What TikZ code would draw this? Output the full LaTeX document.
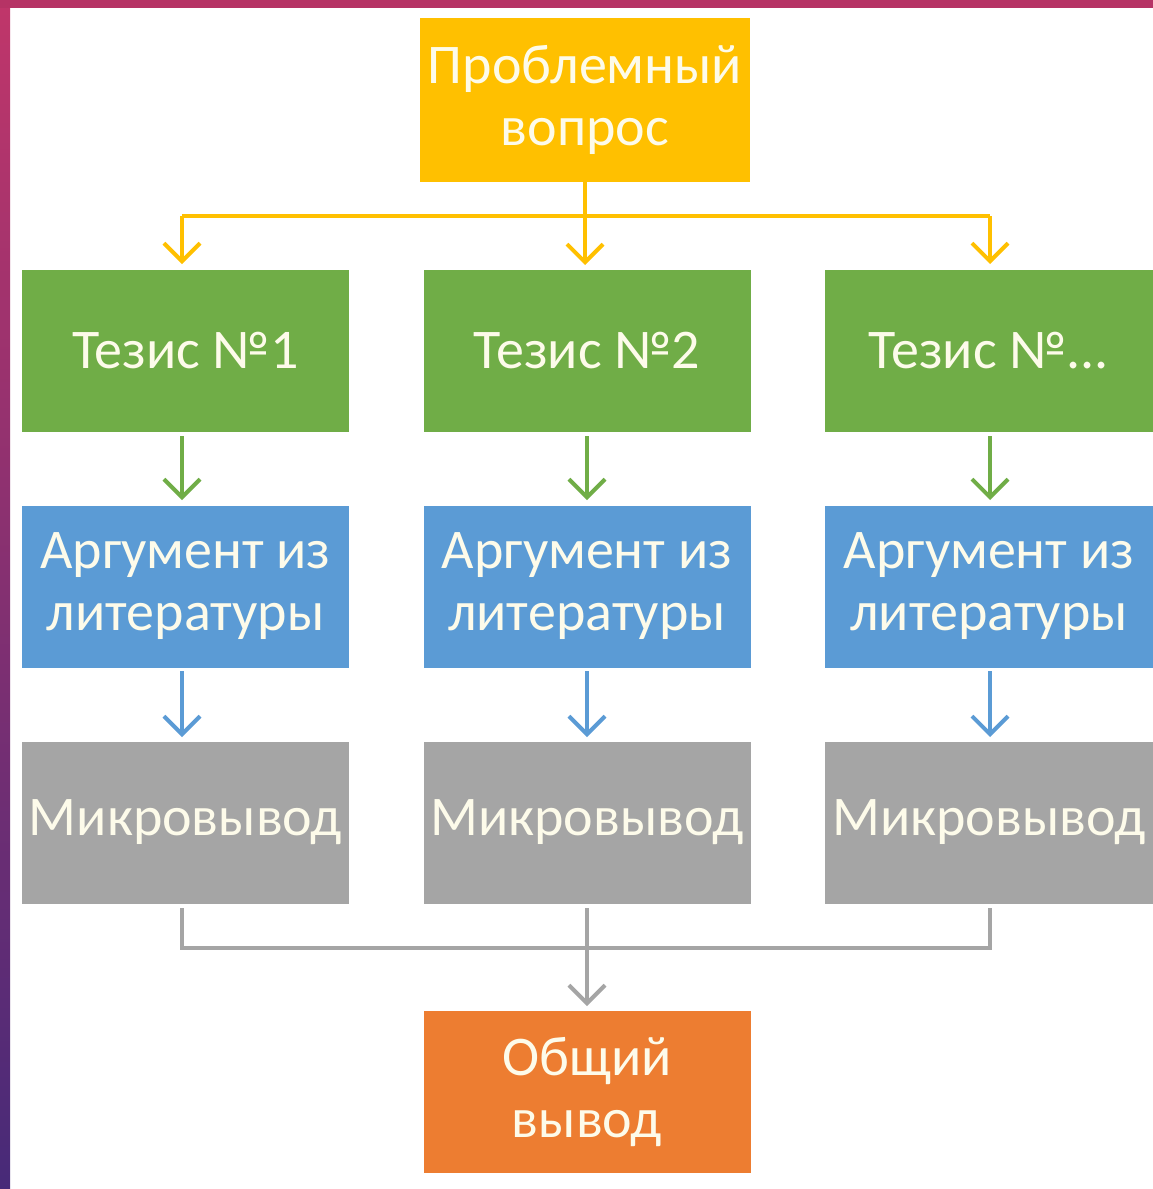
\documentclass[tikz,border=0pt]{standalone}
\usepackage{fontspec}
\setmainfont{Carlito}
\usetikzlibrary{arrows.meta}
\definecolor{cgold}{HTML}{FFC000}
\definecolor{cgreen}{HTML}{70AD47}
\definecolor{cblue}{HTML}{5B9BD5}
\definecolor{cgray}{HTML}{A5A5A5}
\definecolor{corange}{HTML}{ED7D31}
\definecolor{ctext}{HTML}{FDFBEA}
\definecolor{bpink}{HTML}{C0366A}
\definecolor{bpurple}{HTML}{472A78}
\tikzset{
  box/.style={minimum width=327pt, minimum height=162pt, inner sep=0pt, text=ctext,
    font=\fontsize{56}{62}\selectfont, align=center},
  conn/.style={line width=4pt},
  arr/.style={conn, -{Straight Barb[length=18pt,width=36pt,line width=4pt]}}
}
\begin{document}
\begin{tikzpicture}[x=1pt,y=-1pt]
\useasboundingbox (0,0) rectangle (1153,1189);
\fill[white] (0,0) rectangle (1153,1189);
\shade[top color=bpink, bottom color=bpurple] (0,0) rectangle (10,1189);
\fill[bpink!95!black] (0,0) rectangle (1153,8);
% boxes
\node[box, fill=cgold, minimum width=330pt, minimum height=164pt] (q) at (585,100) {Проблемный\\вопрос};
\node[box, fill=cgreen] (t1) at (185.5,351) {Тезис №1};
\node[box, fill=cgreen] (t2) at (587,351) {Тезис №2};
\node[box, fill=cgreen, minimum width=328pt] (t3) at (989,351) {Тезис №...};
\node[box, fill=cblue] (a1) at (185.5,586.5) {Аргумент из\\литературы};
\node[box, fill=cblue] (a2) at (587,586.5) {Аргумент из\\литературы};
\node[box, fill=cblue, minimum width=328pt] (a3) at (989,586.5) {Аргумент из\\литературы};
\node[box, fill=cgray] (m1) at (185.5,822.5) {Микровывод};
\node[box, fill=cgray] (m2) at (587,822.5) {Микровывод};
\node[box, fill=cgray, minimum width=328pt] (m3) at (989,822.5) {Микровывод};
\node[box, fill=corange] (o) at (587,1092) {Общий\\вывод};
% yellow connectors
\coordinate (ytip) at (585,265);
\draw[conn, cgold] (182,216) -- (990,216);
\draw[arr, cgold] (q.south) -- (ytip);
\draw[arr, cgold] (182,216) -- (182,264);
\draw[arr, cgold] (990,216) -- (990,264);
% green/blue arrows
\draw[arr, cgreen] (182,436) -- (182,500);
\draw[arr, cgreen] (587,436) -- (587,500);
\draw[arr, cgreen] (990,436) -- (990,500);
\draw[arr, cblue] (182,671) -- (182,737);
\draw[arr, cblue] (587,671) -- (587,737);
\draw[arr, cblue] (990,671) -- (990,737);
% gray
\coordinate (gtip) at (587,1006);
\draw[conn, cgray] (182,908) -- (182,948) -- (990,948) -- (990,908);
\draw[arr, cgray] (587,908) -- (gtip);
\end{tikzpicture}
\end{document}
